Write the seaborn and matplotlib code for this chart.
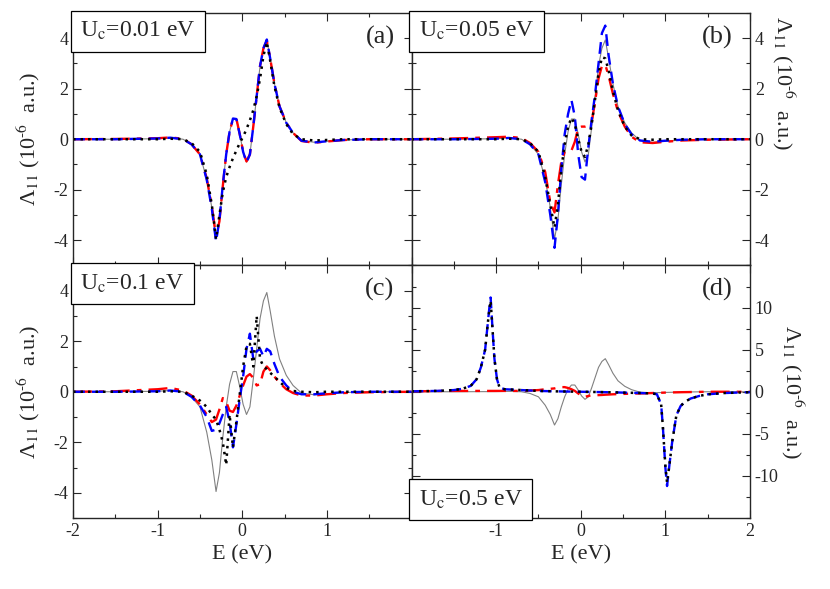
import numpy as np
import pandas as pd
import matplotlib
matplotlib.use("Agg")
import matplotlib.pyplot as plt
import seaborn as sns
from matplotlib.offsetbox import AnchoredText
from matplotlib.ticker import MultipleLocator

# energy grid (eV) used by panels a-c and by the grey / red curves of panel d
E = [-2.0, -1.5, -1.0, -0.85, -0.7, -0.6, -0.5, -0.42, -0.36, -0.31, -0.27, -0.23,
     -0.19, -0.15, -0.11, -0.07, -0.03, 0.01, 0.05, 0.09, 0.13, 0.17, 0.21, 0.25,
     0.29, 0.33, 0.38, 0.44, 0.52, 0.6, 0.7, 0.85, 1.0, 1.2, 1.5, 2.0]

# thin grey reference curve (same in all panels)
grey_ref = [0, 0, 0.02, 0.05, 0.0, -0.2, -0.6, -1.6, -2.7, -3.95, -3.2, -1.8,
            -0.6, 0.3, 0.8, 0.8, 0.2, -0.5, -0.9, -0.6, 0.5, 1.7, 2.9, 3.6,
            3.93, 3.2, 2.2, 1.3, 0.65, 0.25, -0.05, -0.12, -0.08, -0.03, 0, 0]

# (a) Uc = 0.01 eV
red_a = [0, 0.01, 0.04, 0.07, 0.02, -0.2, -0.6, -1.55, -2.65, -3.85, -3.25, -1.85,
         -0.6, 0.3, 0.8, 0.82, 0.2, -0.5, -0.88, -0.6, 0.5, 1.7, 2.9, 3.6,
         3.9, 3.2, 2.2, 1.3, 0.65, 0.25, -0.07, -0.14, -0.09, -0.03, 0, 0]
blue_a = [0, 0, 0.03, 0.06, 0.0, -0.2, -0.6, -1.6, -2.75, -4.05, -3.2, -1.8,
          -0.6, 0.3, 0.82, 0.8, 0.2, -0.5, -0.92, -0.6, 0.5, 1.7, 2.9, 3.6,
          3.95, 3.2, 2.2, 1.3, 0.65, 0.25, -0.06, -0.13, -0.08, -0.03, 0, 0]
black_a = [0, 0, 0.0, 0.02, 0.0, -0.15, -0.5, -1.4, -2.6, -3.95, -3.0, -2.1,
           -1.5, -1.1, -0.75, -0.45, -0.15, 0.1, 0.4, 0.75, 1.15, 1.7, 2.4, 3.3,
           3.85, 3.1, 2.1, 1.25, 0.6, 0.2, 0.0, -0.05, -0.03, 0, 0, 0]

# (b) Uc = 0.05 eV
red_b = [0, 0.03, 0.08, 0.1, 0.05, -0.15, -0.5, -1.3, -2.5, -2.9, -1.8, -0.9,
         -0.5, -0.45, -0.45, -0.1, 0.45, 0.5, 0.5, 0.55, 0.7, 1.5, 2.4, 2.9,
         2.95, 2.5, 1.8, 1.1, 0.5, 0.1, -0.12, -0.15, -0.1, -0.05, -0.02, 0]
blue_b = [0, 0, 0.02, 0.05, 0.0, -0.2, -0.6, -1.7, -3.0, -4.3, -3.0, -1.2,
          0.2, 1.0, 1.55, 0.9, -0.6, -1.5, -1.6, -0.3, 0.8, 1.8, 3.0, 4.2,
          4.5, 3.3, 2.2, 1.3, 0.6, 0.2, -0.05, -0.1, -0.06, -0.02, 0, 0]
black_b = [0, 0, 0.0, 0.02, 0.0, -0.15, -0.5, -1.5, -2.6, -3.5, -2.6, -1.2,
           -0.2, 0.5, 0.85, 0.6, 0.0, -0.5, -0.7, -0.2, 0.6, 1.6, 2.6, 3.25,
           3.2, 2.7, 1.9, 1.15, 0.5, 0.15, 0.0, -0.02, 0, 0, 0, 0]

# (c) Uc = 0.1 eV
red_c = [0, 0.02, 0.1, 0.15, 0.05, -0.15, -0.5, -0.9, -1.2, -1.1, -0.7, -0.25,
         -0.4, -0.75, -0.8, -0.55, -0.15, 0.25, 0.6, 0.7, 0.55, 0.25, 0.3, 0.8,
         1.0, 0.85, 0.6, 0.35, 0.1, -0.05, -0.15, -0.15, -0.1, -0.05, -0.02, 0]
blue_c = [0, 0, 0.02, 0.05, 0.0, -0.2, -0.55, -1.0, -1.55, -1.5, -1.25, -0.9,
          -0.6, -1.2, -2.2, -1.3, -0.3, 0.6, 1.7, 2.3, 1.3, 1.6, 1.7, 1.4,
          1.7, 1.6, 1.1, 0.6, 0.25, 0.0, -0.1, -0.1, -0.06, -0.02, 0, 0]
black_c = [0, 0, 0.0, 0.02, 0.0, -0.15, -0.35, -0.6, -0.9, -1.1, -1.5, -2.0,
           -2.9, -0.9, -2.2, -1.2, -0.1, 1.0, 1.8, 1.9, 1.0, 3.0, 1.3, 1.0,
           0.9, 0.75, 0.6, 0.4, 0.15, 0.03, 0.0, -0.02, 0, 0, 0, 0]

# (d) Uc = 0.5 eV
red_d = [0.05, 0.1, 0.1, 0.1, 0.1, 0.15, 0.2, 0.3, 0.35, 0.4, 0.5, 0.55,
         0.55, 0.45, 0.3, 0.1, -0.2, -0.5, -0.6, -0.5, -0.4, -0.4, -0.4, -0.38,
         -0.35, -0.33, -0.3, -0.28, -0.25, -0.22, -0.2, -0.15, -0.1, -0.05, 0, 0]

Ed = [-2.0, -1.7, -1.5, -1.4, -1.3, -1.23, -1.18, -1.13, -1.1, -1.08, -1.065, -1.04,
      -1.02, -0.99, -0.96, -0.9, -0.7, -0.5, -0.3, 0.0, 0.3, 0.5, 0.7, 0.85, 0.9,
      0.95, 0.97, 1.0, 1.02, 1.05, 1.08, 1.13, 1.18, 1.23, 1.3, 1.4, 1.5, 1.7, 2.0]
blue_d = [0.05, 0.1, 0.2, 0.35, 0.7, 1.5, 2.9, 5.0, 8.0, 10.0, 11.2, 7.0,
          3.9, 1.5, 0.5, 0.3, 0.2, 0.1, 0.05, 0.0, -0.05, -0.1, -0.15, -0.2, -0.3,
          -1.5, -4.1, -9.0, -11.2, -8.5, -6.0, -2.8, -1.7, -1.2, -0.8, -0.5, -0.3, -0.15, -0.05]
black_d = [0.05, 0.1, 0.2, 0.35, 0.7, 1.5, 2.9, 5.0, 8.0, 9.8, 10.8, 7.0,
           3.9, 1.5, 0.5, 0.3, 0.2, 0.1, 0.05, 0.0, -0.05, -0.1, -0.15, -0.2, -0.3,
           -1.5, -4.1, -8.8, -10.8, -8.5, -6.0, -2.8, -1.7, -1.2, -0.8, -0.5, -0.3, -0.15, -0.05]

uc_labels = ["U$_\\mathrm{c}$=0.01 eV", "U$_\\mathrm{c}$=0.05 eV",
             "U$_\\mathrm{c}$=0.1 eV", "U$_\\mathrm{c}$=0.5 eV"]
panel_tags = ["(a)", "(b)", "(c)", "(d)"]
ylab = "Λ$_{11}$ (10$^{\\text{-}6}$  a.u.)"

sns.set_style("ticks")
plt.rcParams["font.family"] = ["Liberation Serif", "DejaVu Serif"]
plt.rcParams["mathtext.fontset"] = "stix"
plt.rcParams["axes.unicode_minus"] = False

fig, axes = plt.subplots(2, 2, figsize=(8.3, 5.89), dpi=100)
fig.subplots_adjust(left=0.088, right=0.9036, top=0.978, bottom=0.1205, wspace=0, hspace=0)

panels = [
    (axes[0, 0], E, grey_ref, red_a, E, blue_a, black_a),
    (axes[0, 1], E, grey_ref, red_b, E, blue_b, black_b),
    (axes[1, 0], E, grey_ref, red_c, E, blue_c, black_c),
    (axes[1, 1], E, grey_ref, red_d, Ed, blue_d, black_d),
]

for i, (ax, e, g, r, eb, b, k) in enumerate(panels):
    sns.lineplot(x=e, y=g, ax=ax, color="grey", lw=0.8, sort=False, estimator=None)
    sns.lineplot(x=e, y=r, ax=ax, color="red", lw=1.7, sort=False, estimator=None)
    ax.lines[-1].set_dashes([8, 3, 2, 3])
    sns.lineplot(x=eb, y=b, ax=ax, color="blue", lw=1.7, sort=False, estimator=None)
    ax.lines[-1].set_dashes([5, 3])
    sns.lineplot(x=eb, y=k, ax=ax, color="black", lw=1.8, sort=False, estimator=None)
    ax.lines[-1].set_dashes([1, 2])

    ax.set_xlim(-2, 2)
    ax.xaxis.set_major_locator(MultipleLocator(1))
    ax.xaxis.set_minor_locator(MultipleLocator(0.5))
    if i == 3:
        ax.set_ylim(-15, 15)
        ax.set_yticks([-10, -5, 0, 5, 10])
        ax.yaxis.set_minor_locator(MultipleLocator(2.5))
    else:
        ax.set_ylim(-5, 5)
        ax.set_yticks([-4, -2, 0, 2, 4])
        ax.yaxis.set_minor_locator(MultipleLocator(1))
    ax.tick_params(which="both", direction="in", top=True, right=True, left=True,
                   bottom=True, labelsize=13, width=0.8)
    ax.tick_params(which="major", length=6)
    ax.tick_params(which="minor", length=3)
    for s in ax.spines.values():
        s.set_linewidth(1.0)

    if i < 2:
        ax.set_xticklabels([])
        ax.set_xlabel("")
    else:
        ax.set_xticks([-2, -1, 0, 1, 2])
        if i == 2:
            ax.set_xticklabels(["-2", "-1", "0", "1", ""])
        else:
            ax.set_xticklabels(["", "-1", "0", "1", "2"])
        ax.set_xlabel("E (eV)", fontsize=16, labelpad=4)

    if i % 2 == 0:
        ax.set_ylabel(ylab, fontsize=16, labelpad=8)
    else:
        ax.yaxis.tick_right()
        ax.tick_params(which="both", left=True, right=True, labelleft=False, labelright=True)
        ax.yaxis.set_label_position("right")
        ax.set_ylabel(ylab, fontsize=16, rotation=270, labelpad=20)

    loc = "lower left" if i == 3 else "upper left"
    at = AnchoredText(uc_labels[i], loc=loc, pad=0.3, borderpad=0, frameon=True,
                      prop=dict(size=17))
    at.patch.set_boxstyle("square,pad=0.1")
    at.patch.set_linewidth(0.9)
    ax.add_artist(at)
    ax.text(0.95, 0.95, panel_tags[i], transform=ax.transAxes, ha="right", va="top",
            fontsize=19)

axes[0, 1].yaxis.set_label_coords(1.14, 0.72)

fig.savefig("out.png", dpi=100)
